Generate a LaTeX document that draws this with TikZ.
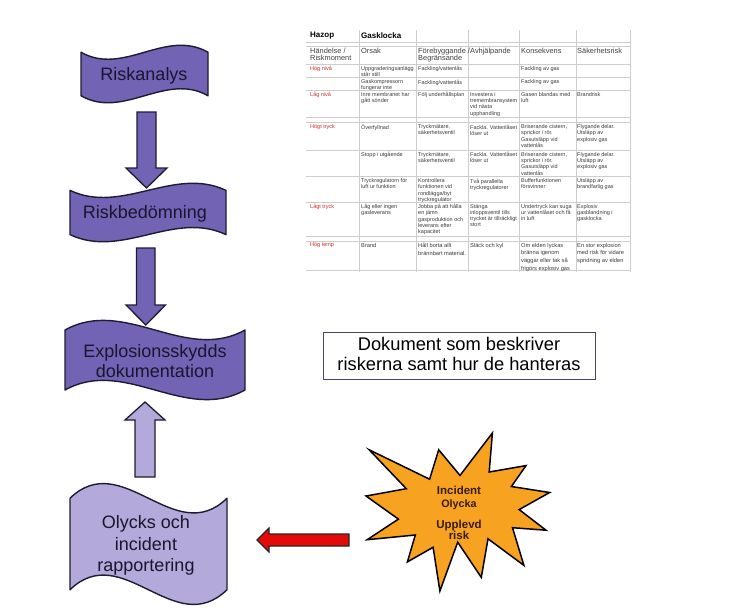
\documentclass[tikz,border=0pt]{standalone}
\usepackage{fontspec}
\setmainfont{Liberation Sans}
\definecolor{purpD}{RGB}{114,99,181}
\definecolor{purpL}{RGB}{179,169,218}
\definecolor{outl}{RGB}{30,28,50}
\definecolor{lbltext}{RGB}{25,22,45}
\definecolor{starfill}{RGB}{247,163,33}
\definecolor{startext}{RGB}{55,28,8}
\definecolor{redarrow}{RGB}{228,10,10}
\definecolor{docborder}{RGB}{70,70,105}
\definecolor{gridgray}{RGB}{205,205,205}
\definecolor{tgray}{RGB}{60,60,60}
\definecolor{tred}{RGB}{215,40,40}
\newcommand{\wavebox}[6]{%
  \pgfmathsetmacro\wA{(#5-#3)/8}%
  \pgfmathsetmacro\wYt{#3+\wA}%
  \pgfmathsetmacro\wYb{#5-\wA}%
  \pgfmathsetmacro\wD{#6*10/3*\wA}%
  \pgfmathsetmacro\wXa{#2+(#4-#2)/3}%
  \pgfmathsetmacro\wXb{#2+2*(#4-#2)/3}%
  \pgfmathsetmacro\wTa{\wYt+\wD}%
  \pgfmathsetmacro\wTb{\wYt-\wD}%
  \pgfmathsetmacro\wBa{\wYb+\wD}%
  \pgfmathsetmacro\wBb{\wYb-\wD}%
  \draw[#1] (#2,\wYt) .. controls (\wXa,\wTa) and (\wXb,\wTb) .. (#4,\wYt) -- (#4,\wYb) .. controls (\wXb,\wBb) and (\wXa,\wBa) .. (#2,\wYb) -- cycle;
}
\newcounter{tcn}
\newcommand\tc[3]{\stepcounter{tcn}\node[tcell] (cell\arabic{tcn}) at (#1,#2) {#3};}
\newcommand\tcr[3]{\stepcounter{tcn}\node[tcell,text=tred] (cell\arabic{tcn}) at (#1,#2) {#3};}
\newcommand\tct[3]{\stepcounter{tcn}\node[tcell,font=\fontsize{5.7}{7.6}\selectfont] (cell\arabic{tcn}) at (#1,#2) {#3};}
\begin{document}
\begin{tikzpicture}[x=1pt,y=-1pt,
  darkshape/.style={fill=purpD,draw=outl,line width=1.4pt,line join=round},
  lightshape/.style={fill=purpL,draw=outl,line width=1.4pt,line join=round},
  darkarrow/.style={fill=purpD,draw=outl,line width=1.3pt,line join=miter},
  lightarrow/.style={fill=purpL,draw=outl,line width=1.3pt,line join=miter},
  redarr/.style={fill=redarrow,draw=black!85,line width=1.1pt,line join=miter},
  starshape/.style={fill=starfill,draw=black,line width=1.5pt,line join=miter},
  lbl/.style={anchor=base,inner sep=0pt,text=lbltext,font=\fontsize{18}{21}\selectfont},
  doclbl/.style={anchor=base,inner sep=0pt,text=black,font=\fontsize{18.3}{21}\selectfont},
  starlbl/.style={anchor=base,inner sep=0pt,text=startext,font=\fontsize{11.5}{13}\selectfont\bfseries},
  docbox/.style={draw=docborder,line width=0.9pt,fill=white,inner sep=0pt},
  grid/.style={draw=gridgray,line width=0.5pt},
  tcell/.style={anchor=north west,inner sep=0pt,align=left,text=tgray,font=\fontsize{5.5}{6.3}\selectfont},
  thdr/.style={anchor=north west,inner sep=0pt,align=left,text=black!75,font=\fontsize{7.4}{7.4}\selectfont},
  ttitle/.style={anchor=west,inner sep=0pt,text=black,font=\fontsize{8}{9}\selectfont\bfseries}
]
\useasboundingbox (0,0) rectangle (737,614);
\fill[white] (0,0) rectangle (737,614);

% ---------- table (Hazop) ----------
\foreach \yy in {42,46,64.3,77.7,90.5,117.3,122.7,150,176.7,202.7,236,241,270}
  \draw[grid] (306,\yy) -- (630,\yy);
\foreach \xx in {359,416,468,519,576,630}
  \draw[grid] (\xx,30) -- (\xx,272);
\node[ttitle] (hazop) at (310,36) {Hazop};
\node[ttitle] (gask) at (361,36) {Gasklocka};
\node[thdr] (h0) at (310,47.5) {Händelse /\\Riskmoment};
\node[thdr] (h1) at (361,47.5) {Orsak};
\node[thdr] (h2) at (418,47.5) {Förebyggande /\\Begränsande};
\node[thdr] (h3) at (470,47.5) {Avhjälpande};
\node[thdr] (h4) at (521,47.5) {Konsekvens};
\node[thdr] (h5) at (577,47.5) {Säkerhetsrisk};

\tcr{310}{66}{Hög nivå}
\tc{361}{66}{Uppgraderingsanlägg\\står still}
\tc{418}{66}{Fackling/vattenlås}
\tc{521}{66}{Fackling av gas}

\tc{361}{79.5}{Gaskompressorn\\fungerar inte}
\tc{418}{79.5}{Fackling/vattenlås}
\tc{521}{79.5}{Fackling av gas}

\tcr{310}{92}{Låg nivå}
\tc{361}{92}{Inre membranet har\\gått sönder}
\tc{418}{92}{Följ underhållsplan}
\tc{470}{92}{Investera i\\tremembransystem\\vid nästa\\upphandling}
\tc{521}{92}{Gasen blandas med\\luft}
\tc{577}{92}{Brandrisk}

\tcr{310}{124.5}{Högt tryck}
\tc{361}{124.5}{Överfyllnad}
\tc{418}{124.5}{Tryckmätare,\\säkerhetsventil}
\tc{470}{124.5}{Fackla. Vattenlåset\\löser ut}
\tc{521}{124.5}{Briserande cistern,\\sprickor i rör.\\Gasutsläpp vid\\vattenlås}
\tc{577}{124.5}{Flygande delar.\\Utsläpp av\\explosiv gas}

\tc{361}{152}{Stopp i utgående}
\tc{418}{152}{Tryckmätare,\\säkerhetsventil}
\tc{470}{152}{Fackla. Vattenlåset\\löser ut}
\tc{521}{152}{Briserande cistern,\\sprickor i rör.\\Gasutsläpp vid\\vattenlås}
\tc{577}{152}{Flygande delar.\\Utsläpp av\\explosiv gas}

\tc{361}{178.5}{Tryckregulatorn för\\luft ur funktion}
\tc{418}{178.5}{Kontrollera\\funktionen vid\\rondlägga/byt\\tryckregulator}
\tc{470}{178.5}{Två parallella\\tryckregulatorer}
\tc{521}{178.5}{Bufferfunktionen\\försvinner}
\tc{577}{178.5}{Utsläpp av\\brandfarlig gas}

\tcr{310}{204}{Lågt tryck}
\tc{361}{204}{Låg eller ingen\\gasleverans}
\tc{418}{204}{Jobba på att hålla\\en jämn\\gasproduktion och\\leverans efter\\kapacitet}
\tc{470}{204}{Stänga\\inloppsventil tills\\trycket är tillräckligt\\stort}
\tc{521}{204}{Undertryck kan suga\\ur vattenlåset och få\\in luft}
\tc{577}{204}{Explosiv\\gasblandning i\\gasklocka}

\tcr{310}{243}{Hög temp}
\tct{361}{243}{Brand}
\tct{418}{243}{Håll borta allt\\brännbart material.}
\tct{470}{243}{Släck och kyl}
\tct{521}{243}{Om elden lyckas\\bränna igenom\\väggar eller tak så\\frigörs explosiv gas}
\tct{577}{243}{En stor explosion\\med risk för vidare\\spridning av elden}

% ---------- flow shapes ----------
\wavebox{darkshape}{81}{45}{208}{103}{1}
\wavebox{darkshape}{70}{183}{226}{242}{1}
\wavebox{darkshape}{65}{320}{245}{400}{-1}
\wavebox{lightshape}{70}{483}{227}{605}{-1}

\node[lbl] (riskanalys) at (144,80.7) {Riskanalys};
\node[lbl] (riskbed) at (145,218.7) {Riskbedömning};
\node[lbl] (expl1) at (155,357.5) {Explosionsskydds};
\node[lbl] (expl2) at (155,377.5) {dokumentation};
\node[lbl] (oly1) at (146,528.3) {Olycks och};
\node[lbl] (oly2) at (146,550) {incident};
\node[lbl] (oly3) at (146,571.7) {rapportering};

% ---------- block arrows ----------
\draw[darkarrow] (137,112) -- (156,112) -- (156,168) -- (167,168) -- (146.5,188) -- (126,168) -- (137,168) -- cycle;
\draw[darkarrow] (136.5,248) -- (155,248) -- (155,305) -- (165.5,305) -- (145.8,325) -- (126,305) -- (136.5,305) -- cycle;
\draw[lightarrow] (135,477) -- (155,477) -- (155,420) -- (165,420) -- (145,402) -- (125,420) -- (135,420) -- cycle;
\draw[redarr] (349,534) -- (269,534) -- (269,528) -- (257,540) -- (269,552) -- (269,546) -- (349,546) -- cycle;

% ---------- document box ----------
\node[docbox,minimum width=272pt,minimum height=47pt] (docbox) at (459,355.5) {};
\node[doclbl] (doc1) at (459,350.7) {Dokument som beskriver};
\node[doclbl] (doc2) at (459,370.7) {riskerna samt hur de hanteras};

% ---------- explosion star ----------
\draw[starshape] (460.0,475.4) -- (492.4,433) -- (489.2,472.0) -- (526.0,465.6) -- (511.4,486.5) -- (549.6,492.5) -- (519.2,509.6) -- (546,530.2) -- (512.5,527.7) -- (523.9,565.4) -- (488.0,538.8) -- (481.3,577.4) -- (457.7,542.2) -- (439.9,591) -- (433.1,547.3) -- (407.4,561.9) -- (415.3,535.0) -- (367.2,539.7) -- (398.4,519.1) -- (366,496.0) -- (406.3,488.7) -- (369.2,449.8) -- (429.6,479.2) -- (438.7,449.8) -- cycle;
\node[starlbl] (s1) at (459,494) {Incident};
\node[starlbl,font=\fontsize{10.8}{12}\selectfont\bfseries] (s2) at (459,507.3) {Olycka};
\node[starlbl] (s3) at (459,528.3) {Upplevd};
\node[starlbl] (s4) at (459,539.3) {risk};
\end{tikzpicture}
\end{document}
